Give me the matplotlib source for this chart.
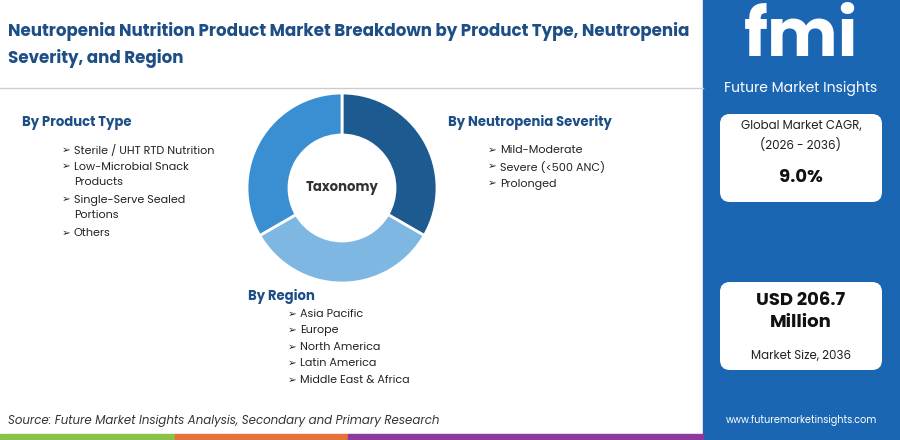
import matplotlib.pyplot as plt
from matplotlib.patches import FancyBboxPatch, Rectangle

plt.rcParams['font.family'] = ['Poppins', 'Lato', 'DejaVu Sans']

title = 'Neutropenia Nutrition Product Market Breakdown by Product Type, Neutropenia\nSeverity, and Region'
segments = ['Neutropenia Severity', 'Region', 'Product Type']
shares = [1 / 3, 1 / 3, 1 / 3]
seg_colors = ['#1c5a8f', '#7db7e2', '#3a8fd3']

product_types = ['Sterile / UHT RTD Nutrition', 'Low-Microbial Snack\nProducts',
                 'Single-Serve Sealed\nPortions', 'Others']
severities = ['Mild-Moderate', 'Severe (<500 ANC)', 'Prolonged']
regions = ['Asia Pacific', 'Europe', 'North America', 'Latin America', 'Middle East & Africa']
cagr = '9.0%'
market_size = 'USD 206.7\nMillion'

fig = plt.figure(figsize=(9, 4.4), dpi=100)
ax = fig.add_axes([0, 0, 1, 1])
ax.set_xlim(0, 900)
ax.set_ylim(440, 0)
ax.axis('off')

blue = '#1a66b3'
navy = '#1d4f86'
ax.add_patch(Rectangle((703, 0), 197, 440, color=blue))
ax.plot([0, 703], [88, 88], color='#cccccc', lw=1)

ax.text(8, 45, title, fontsize=12, fontweight='bold', color=navy, va='center', linespacing=1.55)

# donut
pax = fig.add_axes([(342 - 100) / 900, 1 - (188 + 100) / 440, 200 / 900, 200 / 440])
pax.pie(shares, colors=seg_colors, startangle=90, counterclock=False,
        wedgeprops=dict(width=0.42, edgecolor='white', linewidth=2), radius=0.95)
pax.set_xlim(-1, 1)
pax.set_ylim(-1, 1)
pax.text(0, 0, 'Taxonomy', ha='center', va='center', fontsize=9.5, fontweight='bold', color='#333333')

def block(x, y, head, items, off, dy):
    ax.text(x, y, head, fontsize=9.5, fontweight='bold', color=navy, va='center')
    yy = y + off
    for it in items:
        n = it.count('\n')
        ax.text(x + 40, yy, '➢', fontsize=7.5, va='center', color='#222222')
        ax.text(x + 52, yy - 5, it, fontsize=8, va='top', color='#222222', linespacing=1.55)
        yy += dy * (n + 1)

block(22, 123, 'By Product Type', product_types, 27, 16.6)
block(448, 122, 'By Neutropenia Severity', severities, 28, 16.8)
block(248, 297, 'By Region', regions, 17, 16.5)

ax.text(8, 421, 'Source: Future Market Insights Analysis, Secondary and Primary Research',
        fontsize=8.5, style='italic', color='#333333', va='center')
for x0, x1, c in [(0, 175, '#8bc34a'), (175, 348, '#e8703a'), (348, 703, '#8e3a9c')]:
    ax.add_patch(Rectangle((x0, 434), x1 - x0, 6, color=c))

# right panel
ax.text(801, 40, 'fmi', fontsize=48, fontweight='bold', color='white', ha='center', va='center')
ax.text(801, 89, 'Future Market Insights', fontsize=10, color='white', ha='center', va='center')
for y0, h in [(114, 88), (282, 88)]:
    ax.add_patch(FancyBboxPatch((720, y0), 162, h, boxstyle='round,pad=0,rounding_size=10',
                                facecolor='white', edgecolor='none'))
ax.text(801, 136, 'Global Market CAGR,\n(2026 - 2036)', fontsize=8.5, ha='center', va='center',
        color='#222222', linespacing=1.5)
ax.text(801, 178, cagr, fontsize=13, fontweight='bold', ha='center', va='center', color='#111111')
ax.text(801, 312, market_size, fontsize=13, fontweight='bold', ha='center', va='center',
        color='#111111', linespacing=1.3)
ax.text(801, 356, 'Market Size, 2036', fontsize=8.5, ha='center', va='center', color='#222222')
ax.text(801, 421, 'www.futuremarketinsights.com', fontsize=7, ha='center', va='center', color='white')

fig.savefig('out.png', dpi=100)
